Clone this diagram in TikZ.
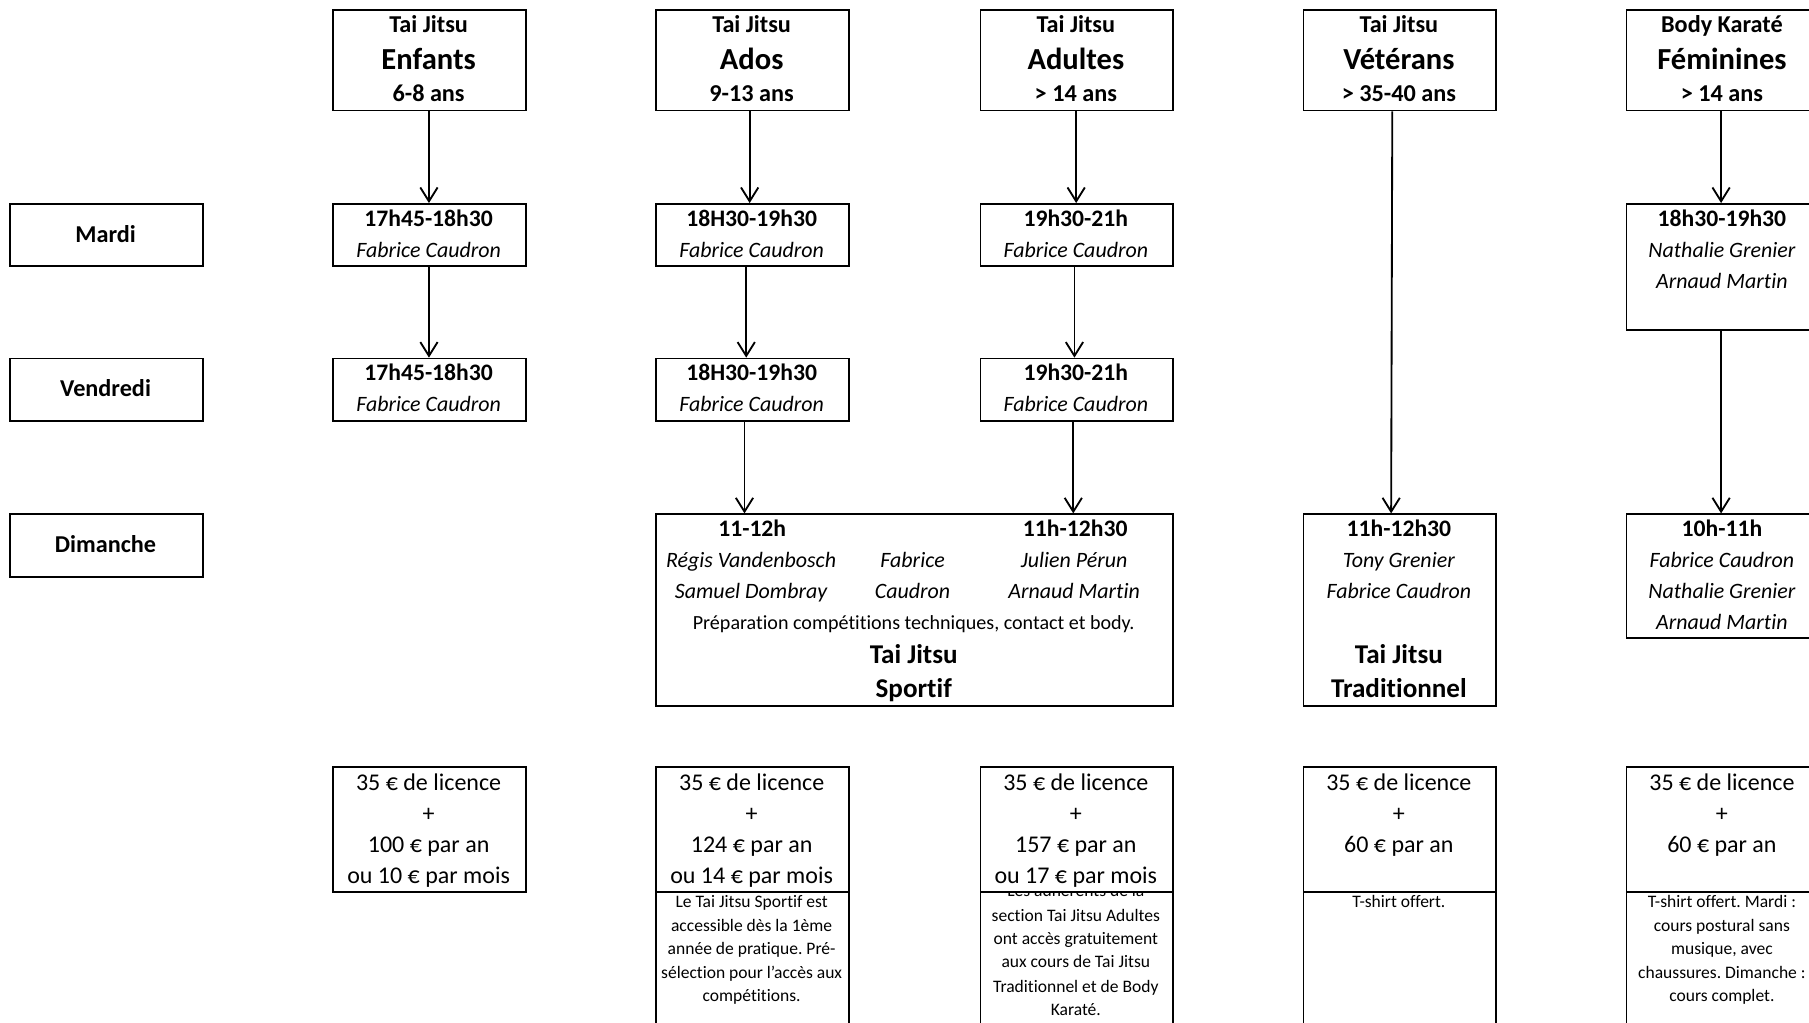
\documentclass[tikz,border=0pt]{standalone}
\usepackage{fontspec}
\setmainfont{Carlito}[Ligatures={NoCommon}]
\usetikzlibrary{arrows.meta}
\frenchspacing
\begin{document}
\begin{tikzpicture}[x=1pt,y=-1pt,
  box/.style={draw, line width=1.6pt, anchor=north west, inner sep=0, minimum width=167pt, minimum height=54pt},
  wbox/.style={box, fill=white},
  tx/.style={anchor=base, inner sep=0},
  fb/.style={tx, font=\fontsize{21}{25}\selectfont\bfseries},
  fbig/.style={tx, font=\fontsize{26.5}{31}\selectfont\bfseries},
  fsec/.style={tx, font=\fontsize{23.5}{28}\selectfont\bfseries},
  ft/.style={tx, font=\fontsize{20.5}{24}\selectfont\bfseries},
  fi/.style={tx, font=\fontsize{19}{23}\selectfont\itshape},
  fp/.style={tx, font=\fontsize{20.8}{24}\selectfont},
  fn/.style={tx, font=\fontsize{15.2}{18}\selectfont},
  fprep/.style={tx, font=\fontsize{17.4}{21}\selectfont},
  arr/.style={line width=1.6pt, -{Straight Barb[length=12pt,width=15pt,line width=1.6pt]}}
]
\useasboundingbox (0,0) rectangle (1568,886);

% ---------- header boxes ----------
\node[box, minimum height=87pt] (hE) at (288,8) {};
\node[box, minimum height=87pt] (hA) at (568,8) {};
\node[box, minimum height=87pt] (hD) at (849,8) {};
\node[box, minimum height=87pt] (hV) at (1129,8) {};
\node[box, minimum height=87pt] (hF) at (1409,8) {};
\node[fb] (hE1) at (371.5,28) {Tai Jitsu};
\node[fbig] (hE2) at (371.5,60.5) {Enfants};
\node[fb] (hE3) at (371.5,88) {6-8 ans};
\node[fb] (hA1) at (651.5,28) {Tai Jitsu};
\node[fbig] (hA2) at (651.5,60.5) {Ados};
\node[fb] (hA3) at (651.5,88) {9-13 ans};
\node[fb] (hD1) at (932.5,28) {Tai Jitsu};
\node[fbig] (hD2) at (932.5,60.5) {Adultes};
\node[fb] (hD3) at (932.5,88) {> 14 ans};
\node[fb] (hV1) at (1212.5,28) {Tai Jitsu};
\node[fbig] (hV2) at (1212.5,60.5) {Vétérans};
\node[fb] (hV3) at (1212.5,88) {> 35-40 ans};
\node[fb] (hF1) at (1492.5,28) {Body Karaté};
\node[fbig] (hF2) at (1492.5,60.5) {Féminines};
\node[fb] (hF3) at (1492.5,88) {> 14 ans};

% ---------- day labels ----------
\node[box] (dM) at (8,176) {};
\node[box] (dV) at (8,310) {};
\node[box] (dD) at (8,445) {};
\node[fb] (dM1) at (91.5,210) {Mardi};
\node[fb] (dV1) at (91.5,344) {Vendredi};
\node[fb] (dD1) at (91.5,479) {Dimanche};

% ---------- Tuesday ----------
\node[box] (tE) at (288,176) {};
\node[box] (tA) at (568,176) {};
\node[box] (tD) at (849,176) {};
\node[box, minimum height=109pt] (tF) at (1409,176) {};
\node[ft] (tE1) at (371.5,196) {17h45-18h30};
\node[fi] (tE2) at (371.5,223) {Fabrice Caudron};
\node[ft] (tA1) at (651.5,196) {18H30-19h30};
\node[fi] (tA2) at (651.5,223) {Fabrice Caudron};
\node[ft] (tD1) at (932.5,196) {19h30-21h};
\node[fi] (tD2) at (932.5,223) {Fabrice Caudron};
\node[ft] (tF1) at (1492.5,196) {18h30-19h30};
\node[fi] (tF2) at (1492.5,223) {Nathalie Grenier};
\node[fi] (tF3) at (1492.5,250) {Arnaud Martin};

% ---------- Friday ----------
\node[box] (fE) at (288,310) {};
\node[box] (fA) at (568,310) {};
\node[box] (fD) at (849,310) {};
\node[ft] (fE1) at (371.5,330) {17h45-18h30};
\node[fi] (fE2) at (371.5,357) {Fabrice Caudron};
\node[ft] (fA1) at (651.5,330) {18H30-19h30};
\node[fi] (fA2) at (651.5,357) {Fabrice Caudron};
\node[ft] (fD1) at (932.5,330) {19h30-21h};
\node[fi] (fD2) at (932.5,357) {Fabrice Caudron};

% ---------- Sunday ----------
\node[box, minimum width=448pt, minimum height=166pt] (sS) at (568,445) {};
\node[box, minimum height=166pt] (sV) at (1129,445) {};
\node[box, minimum height=107pt] (sF) at (1409,445) {};
\node[ft] (sS1) at (652,465) {11-12h};
\node[ft] (sS2) at (932,465) {11h-12h30};
\node[fi] (sS3) at (651,492) {Régis Vandenbosch};
\node[fi] (sS4) at (791,492) {Fabrice};
\node[fi] (sS5) at (931,492) {Julien Pérun};
\node[fi] (sS6) at (651,519) {Samuel Dombray};
\node[fi] (sS7) at (791,519) {Caudron};
\node[fi] (sS8) at (931,519) {Arnaud Martin};
\node[fprep] (sS9) at (792,546) {Préparation compétitions techniques, contact et body.};
\node[fsec] (sS10) at (792,575.5) {Tai Jitsu};
\node[fsec] (sS11) at (792,604.5) {Sportif};
\node[ft] (sV1) at (1212.5,465) {11h-12h30};
\node[fi] (sV2) at (1212.5,492) {Tony Grenier};
\node[fi] (sV3) at (1212.5,519) {Fabrice Caudron};
\node[fsec] (sV4) at (1212.5,575.5) {Tai Jitsu};
\node[fsec] (sV5) at (1212.5,604.5) {Traditionnel};
\node[ft] (sF1) at (1492.5,465) {10h-11h};
\node[fi] (sF2) at (1492.5,492) {Fabrice Caudron};
\node[fi] (sF3) at (1492.5,519) {Nathalie Grenier};
\node[fi] (sF4) at (1492.5,546) {Arnaud Martin};

% ---------- notes (below prices) ----------
\node[box, minimum height=140pt] (nA) at (568,772) {};
\node[box, minimum height=140pt] (nD) at (849,772) {};
\node[box, minimum height=140pt] (nV) at (1129,772) {};
\node[box, minimum height=140pt] (nF) at (1409,772) {};
\node[fn] (nA1) at (651.5,787) {Le Tai Jitsu Sportif est};
\node[fn] (nA2) at (651.5,807) {accessible dès la 1ème};
\node[fn] (nA3) at (651.5,827) {année de pratique. Pré-};
\node[fn] (nA4) at (651.5,848) {sélection pour l'accès aux};
\node[fn] (nA5) at (651.5,868) {compétitions.};
\node[fn] (nD1) at (932.5,777) {Les adhérents de la};
\node[fn] (nD2) at (932.5,799) {section Tai Jitsu Adultes};
\node[fn] (nD3) at (932.5,819) {ont accès gratuitement};
\node[fn] (nD4) at (932.5,839) {aux cours de Tai Jitsu};
\node[fn] (nD5) at (932.5,860) {Traditionnel et de Body};
\node[fn] (nD6) at (932.5,880) {Karaté.};
\node[fn] (nV1) at (1212.5,787) {T-shirt offert.};
\node[fn] (nF1) at (1492.5,787) {T-shirt offert. Mardi :};
\node[fn] (nF2) at (1492.5,807) {cours postural sans};
\node[fn] (nF3) at (1492.5,827) {musique, avec};
\node[fn] (nF4) at (1492.5,848) {chaussures. Dimanche :};
\node[fn] (nF5) at (1492.5,868) {cours complet.};

% ---------- prices ----------
\node[wbox, minimum height=108pt] (pE) at (288,664) {};
\node[wbox, minimum height=108pt] (pA) at (568,664) {};
\node[wbox, minimum height=108pt] (pD) at (849,664) {};
\node[wbox, minimum height=108pt] (pV) at (1129,664) {};
\node[wbox, minimum height=108pt] (pF) at (1409,664) {};
\node[fp] (pE1) at (371.5,685) {35 € de licence};
\node[fp] (pE2) at (371.5,712) {+};
\node[fp] (pE3) at (371.5,739) {100 € par an};
\node[fp] (pE4) at (371.5,766) {ou 10 € par mois};
\node[fp] (pA1) at (651.5,685) {35 € de licence};
\node[fp] (pA2) at (651.5,712) {+};
\node[fp] (pA3) at (651.5,739) {124 € par an};
\node[fp] (pA4) at (651.5,766) {ou 14 € par mois};
\node[fp] (pD1) at (932.5,685) {35 € de licence};
\node[fp] (pD2) at (932.5,712) {+};
\node[fp] (pD3) at (932.5,739) {157 € par an};
\node[fp] (pD4) at (932.5,766) {ou 17 € par mois};
\node[fp] (pV1) at (1212.5,685) {35 € de licence};
\node[fp] (pV2) at (1212.5,712) {+};
\node[fp] (pV3) at (1212.5,739) {60 € par an};
\node[fp] (pF1) at (1492.5,685) {35 € de licence};
\node[fp] (pF2) at (1492.5,712) {+};
\node[fp] (pF3) at (1492.5,739) {60 € par an};

% ---------- connectors ----------
\draw[arr] ([xshift=-0.5pt]hE.south) -- ([xshift=-0.5pt]tE.north);
\draw[arr] ([xshift=-0.5pt]tE.south) -- ([xshift=-0.5pt]fE.north);
\draw[arr] ([xshift=-2.5pt]hA.south) -- ([xshift=-2.5pt]tA.north);
\draw[arr] ([xshift=-5.5pt]tA.south) -- ([xshift=-5.5pt]fA.north);
\draw[arr] ([xshift=-7pt]fA.south) -- ([xshift=-7pt]fA.south |- sS.north);
\draw[arr] ([xshift=-0.5pt]hD.south) -- ([xshift=-0.5pt]tD.north);
\draw[arr] ([xshift=-2pt]tD.south) -- ([xshift=-2pt]fD.north);
\draw[arr] ([xshift=-3pt]fD.south) -- ([xshift=-3pt]fD.south |- sS.north);
\draw[arr] ([xshift=-6.5pt]hV.south) -- ([xshift=-7.5pt]sV.north);
\draw[arr] ([xshift=-1.5pt]hF.south) -- ([xshift=-1.5pt]tF.north);
\draw[arr] ([xshift=-1.5pt]tF.south) -- ([xshift=-1.5pt]sF.north);
\end{tikzpicture}
\end{document}
